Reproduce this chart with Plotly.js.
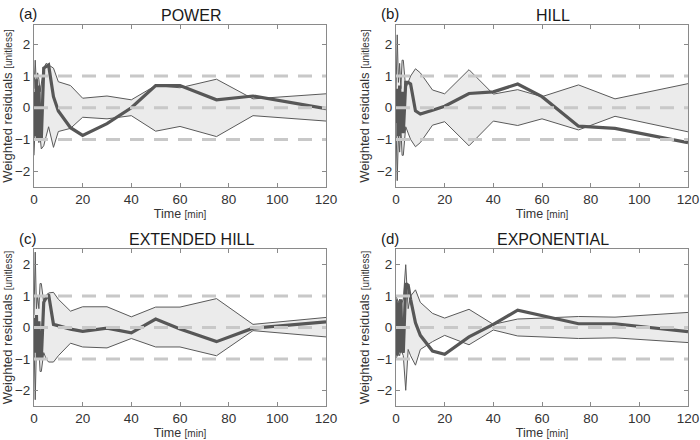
<!DOCTYPE html>
<html>
<head>
<meta charset="utf-8">
<script src="https://cdn.plot.ly/plotly-3.0.1.min.js"></script>
<style>html,body{margin:0;padding:0;background:#fff;}#chart{width:700px;height:440px;}</style>
</head>
<body>
<div id="chart"></div>
<script>
// Shared sampling times [min]
const timeMin = [0,0.5,1,1.5,2,2.5,3,4,5,6,8,10,15,20,30,40,50,60,75,90,120];

// Panel titles and labels
const panelTitles = ["POWER","HILL","EXTENDED HILL","EXPONENTIAL"];
const panelLabels = ["(a)","(b)","(c)","(d)"];
const xTicks = [0,20,40,60,80,100,120];
const yTicks = [-2,-1,0,1,2];
const refLevels = [-1,0,1];

// (a) POWER
const powerResid = [0.5,-0.9,0.9,-1.0,0.7,-0.9,-1.0,1.25,1.3,1.35,0.35,-0.1,-0.63,-0.87,-0.5,0.0,0.7,0.7,0.25,0.37,-0.03];
const powerUpper = [0.6,1.5,0.7,1.1,0.9,0.5,0.75,1.25,1.4,1.35,1.25,0.82,0.7,0.3,0.37,0.25,0.7,0.63,0.9,0.28,0.44];
const powerLower = [-1.5,-0.5,-1.0,-0.7,-1.1,-0.9,-1.3,-1.2,-0.9,-0.6,-1.25,-0.75,-0.65,-0.3,-0.35,-0.25,-0.74,-0.59,-0.91,-0.25,-0.42];

// (b) HILL
const hillResid = [-0.5,0.6,-0.9,0.7,-0.8,0.5,-0.8,0.8,0.8,0.75,-0.1,-0.2,-0.08,0.05,0.45,0.5,0.75,0.35,-0.58,-0.65,-1.1];
const hillUpper = [0.5,2.3,0.8,1.4,0.6,1.5,1.5,0.6,0.8,1.0,1.23,1.1,0.56,0.44,1.2,0.43,0.57,0.35,0.72,0.28,0.76];
const hillLower = [-0.5,-2.3,-0.8,-1.4,-0.6,-1.5,-1.5,-0.6,-0.8,-1.0,-1.23,-1.1,-0.55,-0.44,-1.2,-0.42,-0.56,-0.35,-0.7,-0.27,-0.76];

// (c) EXTENDED HILL
const extResid = [0.3,-0.8,0.4,-1.0,0.2,-0.8,-1.0,0.8,0.95,1.05,0.1,0.05,-0.05,-0.12,-0.02,-0.17,0.27,-0.05,-0.45,-0.02,0.18];
const extUpper = [0.4,2.4,0.6,1.0,0.6,1.4,1.4,0.8,1.0,1.1,1.12,0.9,0.52,0.66,0.66,0.34,0.65,0.65,0.92,0.1,0.32];
const extLower = [-0.4,-2.3,-0.6,-1.0,-0.6,-1.4,-1.4,-0.8,-1.0,-1.1,-1.1,-0.9,-0.5,-0.62,-0.65,-0.35,-0.62,-0.62,-0.9,-0.1,-0.3];

// (d) EXPONENTIAL
const expResid = [0.9,-0.9,0.8,-0.8,0.9,-0.7,-0.8,1.4,1.35,0.9,0.15,-0.25,-0.75,-0.85,-0.3,0.1,0.55,0.38,0.12,0.12,-0.13];
const expUpper = [1.0,0.9,0.8,0.9,0.7,0.8,0.9,2.0,0.6,1.0,1.2,0.8,0.45,0.3,0.58,0.1,0.27,0.3,0.35,0.33,0.48];
const expLower = [-1.0,-0.9,-0.8,-0.9,-0.7,-0.8,-0.9,-2.0,-0.7,-0.9,-1.2,-0.7,-0.45,-0.25,-0.55,-0.08,-0.27,-0.3,-0.35,-0.33,-0.48];

const panels = [
  {resid: powerResid, upper: powerUpper, lower: powerLower},
  {resid: hillResid, upper: hillUpper, lower: hillLower},
  {resid: extResid, upper: extUpper, lower: extLower},
  {resid: expResid, upper: expUpper, lower: expLower}
];

const FONT = "Liberation Sans, Arial, Helvetica, sans-serif";
const xDomains = [[34/700, 326/700],[396/700, 688/700],[34/700, 326/700],[396/700, 688/700]];
const yDomains = [[1-187/440, 1-25/440],[1-187/440, 1-25/440],[1-406/440, 1-249/440],[1-406/440, 1-249/440]];
const yRanges = [[-2.5,2.61],[-2.5,2.61],[-2.5,2.5],[-2.5,2.5]];

const traces = [];
const layout = {
  width: 700, height: 440,
  margin: {l:0, r:0, t:0, b:0},
  paper_bgcolor: "#ffffff", plot_bgcolor: "#ffffff",
  showlegend: false,
  font: {family: FONT, color: "#333333", size: 14},
  shapes: [], annotations: []
};

panels.forEach((p, i) => {
  const n = i + 1;
  const xa = n === 1 ? "x" : "x" + n;
  const ya = n === 1 ? "y" : "y" + n;
  traces.push({x: timeMin, y: p.lower, xaxis: xa, yaxis: ya, mode: "lines",
    line: {color: "#5a5a5a", width: 1}, hoverinfo: "skip"});
  traces.push({x: timeMin, y: p.upper, xaxis: xa, yaxis: ya, mode: "lines", fill: "tonexty",
    fillcolor: "#ebebeb", line: {color: "#5a5a5a", width: 1}, hoverinfo: "skip"});
  traces.push({x: timeMin, y: p.resid, xaxis: xa, yaxis: ya, mode: "lines",
    line: {color: "#575757", width: 3.2}});

  const axBase = {
    showline: true, linecolor: "#8a8a8a", linewidth: 1, mirror: "ticks",
    ticks: "inside", ticklen: 4, tickcolor: "#8a8a8a", showgrid: false, zeroline: false,
    tickfont: {family: FONT, size: 13.5, color: "#333333"}, automargin: false,
    ticklabeloverflow: "allow"
  };
  layout["xaxis" + (n === 1 ? "" : n)] = Object.assign({}, axBase, {
    domain: xDomains[i], anchor: ya, range: [0,120], tickvals: xTicks,
    title: {text: 'Time <span style="font-size:10px">[min]</span>', font: {family: FONT, size: 12.5, color: "#333333"}, standoff: 1}
  });
  layout["yaxis" + (n === 1 ? "" : n)] = Object.assign({}, axBase, {
    domain: yDomains[i], anchor: xa, range: yRanges[i], tickvals: yTicks,
    title: {text: 'Weighted residuals <span style="font-size:10px">[unitless]</span>', font: {family: FONT, size: 13, color: "#333333"}, standoff: 4}
  });

  refLevels.forEach(v => {
    layout.shapes.push({type: "line", xref: xa, yref: ya, x0: 0, x1: 120, y0: v, y1: v,
      line: {color: "#c8c8c8", width: 3, dash: "14px,10px"}, layer: "above"});
  });

  const cx = (xDomains[i][0] + xDomains[i][1]) / 2 + 11/700;
  layout.annotations.push({text: panelTitles[i], xref: "paper", yref: "paper",
    x: cx, y: yDomains[i][1] + 9/440, xanchor: "center", yanchor: "middle", showarrow: false,
    font: {family: FONT, size: 16, color: "#1a1a1a"}});
  layout.annotations.push({text: panelLabels[i], xref: "paper", yref: "paper",
    x: xDomains[i][0] - 17/700, y: yDomains[i][1] + 11/440, xanchor: "left", yanchor: "middle", showarrow: false,
    font: {family: FONT, size: 15, color: "#1a1a1a"}});
});

Plotly.newPlot("chart", traces, layout, {staticPlot: true, displayModeBar: false});
</script>
</body>
</html>
